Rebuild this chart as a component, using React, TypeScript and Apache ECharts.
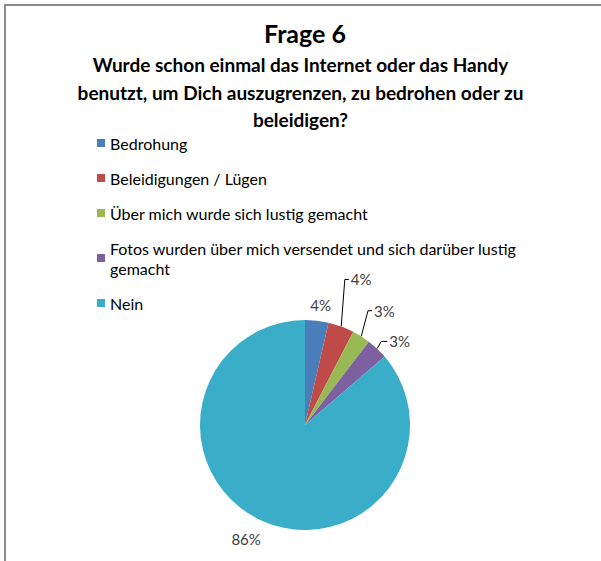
import React, { useEffect, useRef } from "react";
import * as echarts from "echarts";

const titleText = "Frage 6";
const questionLines = [
  "Wurde schon einmal das Internet oder das Handy",
  "benutzt, um Dich auszugrenzen, zu bedrohen oder zu",
  "beleidigen?",
];
const categories = [
  "Bedrohung",
  "Beleidigungen / Lügen",
  "Über mich wurde sich lustig gemacht",
  "Fotos wurden über mich versendet und sich darüber lustig gemacht",
  "Nein",
];
const values = [3.6, 4.0, 2.8, 3.3, 86.3];
const colors = ["#4A7EBB", "#BE4B48", "#98B954", "#7D60A0", "#3AADC8"];
const lineLengths = [12, 50, 28, 10, 20];
const lineLengths2 = [0, 4, 4, 6, 0];
const showLines = [false, true, true, true, false];
const lineTilt = [1, 0.21, 0.45, 0.6, 1];

export default function App() {
  const ref = useRef<HTMLDivElement>(null);
  useEffect(() => {
    if (!ref.current) return;
    const chart = echarts.init(ref.current, undefined, { renderer: "svg" });
    const font = "Lato, 'Open Sans', sans-serif";
    const qTops = [50, 77.5, 104.5];
    chart.setOption({
      animation: false,
      backgroundColor: "#ffffff",
      textStyle: { fontFamily: font },
      graphic: [
        {
          type: "rect",
          shape: { x: 5, y: 5, width: 800, height: 800 },
          style: { fill: "none", stroke: "#8c8c8c", lineWidth: 2 },
          silent: true,
        },
      ],
      title: [
        {
          text: titleText,
          left: 259,
          top: 15,
          textStyle: { fontFamily: font, fontSize: 25, fontWeight: "bold", color: "#000" },
        },
        ...questionLines.map((t, i) => ({
          text: t,
          left: "center",
          top: qTops[i],
          textStyle: { fontFamily: font, fontSize: 19, fontWeight: "bold", color: "#000" },
        })),
      ],
      legend: {
        orient: "vertical",
        left: 92,
        top: 128,
        icon: "rect",
        itemWidth: 8,
        itemHeight: 8,
        itemGap: 15,
        data: categories,
        formatter: (name: string) =>
          name === categories[3]
            ? "Fotos wurden über mich versendet und sich darüber lustig\ngemacht"
            : name,
        textStyle: { fontFamily: font, fontSize: 16, color: "#000", lineHeight: 20 },
      },
      series: [
        {
          type: "pie",
          center: [305, 425],
          radius: 105,
          startAngle: 90,
          clockwise: true,
          avoidLabelOverlap: false,
          percentPrecision: 0,
          label: {
            show: true,
            position: "outside",
            formatter: "{d}%",
            fontFamily: font,
            fontSize: 15,
            color: "#404040",
            distanceToLabelLine: 2,
          },
          labelLine: { show: true, smooth: false, lineStyle: { color: "#000", width: 1 } },
          labelLayout: (p: any) => {
            const i = p.dataIndex;
            if (i === 0) return { dx: -10, dy: -4 };
            if (i === 4) return { dx: 10 };
            const pts = p.labelLinePoints;
            if (!pts || pts.length < 3) return {};
            const a = pts[0], b = pts[1], c = pts[2];
            const nx2 = a[0] + (b[0] - a[0]) * lineTilt[i];
            const shift = nx2 - b[0];
            return {
              dx: shift,
              dy: i === 2 ? -2 : 0,
              labelLinePoints: [a, [nx2, b[1] + (i === 2 ? -2 : 0)], [c[0] + shift, c[1] + (i === 2 ? -2 : 0)]],
            };
          },
          emphasis: { disabled: true },
          data: categories.map((name, i) => ({
            name,
            value: values[i],
            itemStyle: { color: colors[i] },
            labelLine: {
              show: showLines[i],
              length: lineLengths[i],
              length2: lineLengths2[i],
            },
          })),
        },
      ],
    });
    return () => chart.dispose();
  }, []);
  return (
    <div
      ref={ref}
      style={{ position: "fixed", left: 0, top: 0, width: 601, height: 561 }}
    />
  );
}
